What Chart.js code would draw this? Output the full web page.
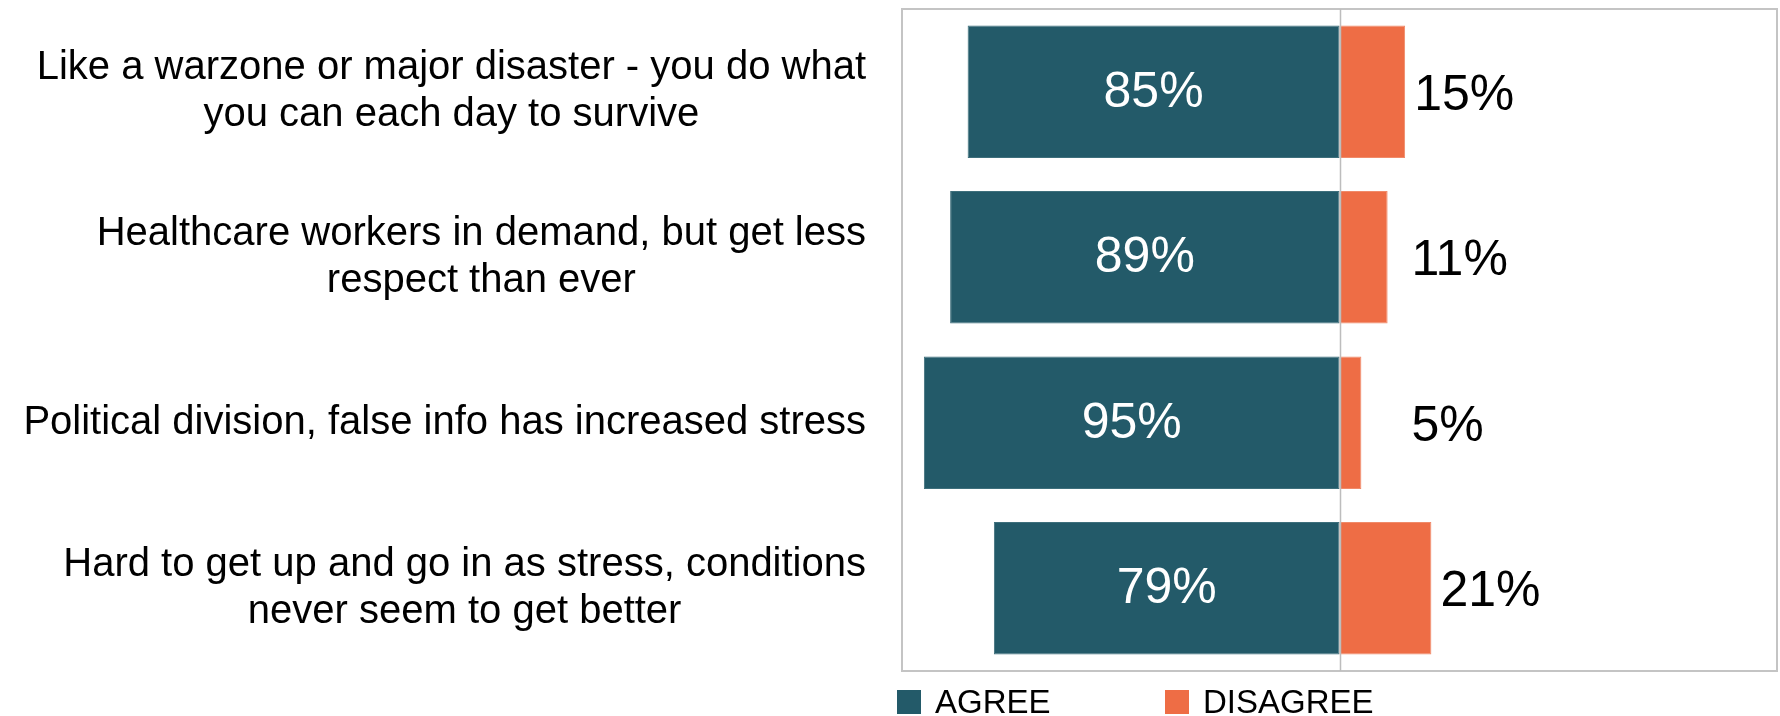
<!DOCTYPE html>
<html>
<head>
<meta charset="utf-8">
<script src="https://cdn.jsdelivr.net/npm/chart.js@4.4.1/dist/chart.umd.min.js"></script>
<style>
  html, body { margin: 0; padding: 0; background: #fff; }
</style>
</head>
<body>
<canvas id="chart" width="1780" height="716"></canvas>
<script>
// chart values
const categories = [
    ["Like a warzone or major disaster - you do what", "you can each day to survive"],
    ["Healthcare workers in demand, but get less", "respect than ever"],
    ["Political division, false info has increased stress"],
    ["Hard to get up and go in as stress, conditions", "never seem to get better"]
];
const agreeValues = [85, 89, 95, 79];
const disagreeValues = [15, 11, 5, 21];
const seriesNames = ["AGREE", "DISAGREE"];

const LABEL_FONT = "40px 'Liberation Sans', Arial, sans-serif";
const VALUE_FONT = "50px 'Liberation Sans', Arial, sans-serif";
const LEGEND_FONT = "33px 'Liberation Sans', Arial, sans-serif";

// plot frame + zero line
const framePlugin = {
    id: 'frame',
    beforeDatasetsDraw(chart) {
        const { ctx, chartArea: a } = chart;
        ctx.save();
        ctx.strokeStyle = '#C4C4C4';
        ctx.lineWidth = 2;
        ctx.strokeRect(a.left, a.top, a.right - a.left, a.bottom - a.top);
        ctx.restore();
    },
    afterDatasetsDraw(chart) {
        const { ctx, chartArea: a, scales } = chart;
        const zx = Math.round(scales.x.getPixelForValue(0)) + 0.5;
        ctx.save();
        ctx.strokeStyle = '#BDBDBD';
        ctx.lineWidth = 1.5;
        ctx.beginPath();
        ctx.moveTo(zx, a.top);
        ctx.lineTo(zx, a.bottom);
        ctx.stroke();
        ctx.restore();
    }
};

// category labels: block right-aligned, lines centred inside the block
const categoryLabelPlugin = {
    id: 'categoryLabels',
    afterDraw(chart) {
        const { ctx, chartArea: a, scales } = chart;
        const rightEdge = a.left - 36;
        const lineHeight = 47;
        ctx.save();
        ctx.font = LABEL_FONT;
        ctx.fillStyle = '#000';
        ctx.textAlign = 'center';
        ctx.textBaseline = 'middle';
        categories.forEach((lines, i) => {
            const cy = scales.y.getPixelForTick(i);
            const widest = Math.max(...lines.map(l => ctx.measureText(l).width));
            const cx = rightEdge - widest / 2;
            lines.forEach((line, j) => {
                const y = cy + (j - (lines.length - 1) / 2) * lineHeight;
                ctx.fillText(line, cx, y);
            });
        });
        ctx.restore();
    }
};

// value labels
const valueLabelPlugin = {
    id: 'valueLabels',
    afterDatasetsDraw(chart) {
        const { ctx, scales } = chart;
        const zx = scales.x.getPixelForValue(0);
        ctx.save();
        ctx.font = VALUE_FONT;
        ctx.textBaseline = 'middle';

        chart.getDatasetMeta(0).data.forEach((bar, i) => {
            ctx.fillStyle = '#fff';
            ctx.textAlign = 'center';
            ctx.fillText(agreeValues[i] + '%', (bar.x + bar.base) / 2, bar.y + 1);
        });
        chart.getDatasetMeta(1).data.forEach((bar, i) => {
            ctx.fillStyle = '#000';
            ctx.textAlign = 'left';
            const x = Math.max(bar.x + 9, zx + 72);
            ctx.fillText(disagreeValues[i] + '%', x, bar.y + 4);
        });
        ctx.restore();
    }
};

// legend under the plot, starting at its left edge
const legendPlugin = {
    id: 'bottomLegend',
    afterDraw(chart) {
        const { ctx, chartArea: a } = chart;
        let x = a.left - 5;
        const boxTop = a.bottom + 19;
        ctx.save();
        ctx.font = LEGEND_FONT;
        ctx.textBaseline = 'alphabetic';
        ctx.textAlign = 'left';
        chart.data.datasets.forEach((ds, i) => {
            ctx.fillStyle = ds.backgroundColor;
            ctx.fillRect(x, boxTop, 24, 24);
            ctx.fillStyle = '#000';
            ctx.fillText(ds.label, x + 38, a.bottom + 42);
            x = i === 0 ? a.left + 263 : x;
        });
        ctx.restore();
    }
};

new Chart(document.getElementById('chart'), {
    type: 'bar',
    data: {
        labels: categories,
        datasets: [
            {
                label: seriesNames[0],
                data: agreeValues.map(v => -v),
                backgroundColor: '#235A69',
                borderColor: '#3E6F7C',
                borderWidth: 1,
                borderSkipped: false
            },
            {
                label: seriesNames[1],
                data: disagreeValues,
                backgroundColor: '#EE6D45',
                borderColor: '#F08A69',
                borderWidth: 1,
                borderSkipped: false
            }
        ]
    },
    options: {
        indexAxis: 'y',
        responsive: false,
        animation: false,
        layout: {
            padding: { top: 9, right: 3, bottom: 45, left: 0 }
        },
        datasets: {
            bar: {
                categoryPercentage: 1,
                barPercentage: 0.8
            }
        },
        plugins: {
            legend: { display: false },
            tooltip: { enabled: false }
        },
        scales: {
            x: {
                type: 'linear',
                min: -100,
                max: 100,
                stacked: true,
                display: false
            },
            y: {
                type: 'category',
                stacked: true,
                ticks: { display: false },
                grid: { display: false },
                border: { display: false },
                afterFit(scale) {
                    scale.width = 902;
                }
            }
        }
    },
    plugins: [framePlugin, valueLabelPlugin, categoryLabelPlugin, legendPlugin]
});
</script>
</body>
</html>
